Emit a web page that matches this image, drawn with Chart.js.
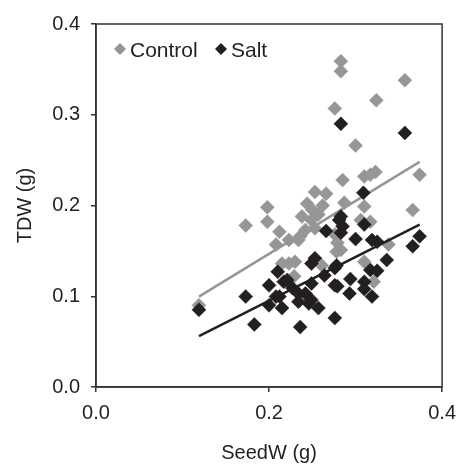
<!DOCTYPE html>
<html><head><meta charset="utf-8">
<script src="https://cdn.jsdelivr.net/npm/chart.js@4/dist/chart.umd.min.js"></script>
<style>html,body{margin:0;padding:0;background:#fff}#wrap{width:465px;height:467px;position:relative}</style>
</head><body><div id="wrap"><canvas id="c" width="465" height="467"></canvas></div>
<script>
const seriesNames = ['Control', 'Salt'];
const controlX = [0.119,0.173,0.198,0.198,0.212,0.208,0.223,0.236,0.242,0.253,0.238,0.249,0.244,0.253,0.266,0.250,0.276,0.279,0.283,0.285,0.283,0.283,0.357,0.324,0.276,0.300,0.374,0.310,0.323,0.317,0.287,0.310,0.366,0.306,0.317,0.338,0.310,0.321,0.215,0.223,0.230,0.229,0.261,0.234,0.278,0.262,0.257];
const controlY = [0.090,0.178,0.198,0.182,0.171,0.157,0.162,0.166,0.173,0.175,0.188,0.184,0.202,0.215,0.213,0.195,0.168,0.159,0.151,0.228,0.359,0.348,0.338,0.316,0.307,0.266,0.234,0.232,0.237,0.234,0.203,0.199,0.195,0.184,0.182,0.157,0.138,0.116,0.136,0.136,0.138,0.122,0.134,0.162,0.149,0.200,0.190];
const saltX = [0.119,0.173,0.183,0.200,0.200,0.208,0.210,0.215,0.217,0.227,0.234,0.234,0.236,0.242,0.246,0.249,0.249,0.249,0.253,0.257,0.264,0.266,0.276,0.276,0.276,0.279,0.281,0.283,0.283,0.285,0.283,0.293,0.294,0.300,0.309,0.310,0.310,0.310,0.317,0.319,0.319,0.325,0.325,0.336,0.357,0.366,0.374,0.212,0.278,0.221];
const saltY = [0.085,0.0996,0.069,0.090,0.112,0.0996,0.127,0.087,0.116,0.109,0.094,0.103,0.066,0.103,0.092,0.096,0.114,0.136,0.142,0.087,0.123,0.172,0.131,0.112,0.076,0.111,0.184,0.188,0.170,0.177,0.290,0.103,0.119,0.163,0.214,0.179,0.116,0.108,0.129,0.0996,0.162,0.160,0.128,0.140,0.280,0.155,0.166,0.0996,0.134,0.118];
const controlFitX = [0.119, 0.374];
const controlFitY = [0.0996, 0.248];
const saltFitX = [0.119, 0.374];
const saltFitY = [0.056, 0.179];
const xTicks = [0, 0.2, 0.4];
const yTicks = [0, 0.1, 0.2, 0.3, 0.4];

const GRAY = '#969696', BLACK = '#231f20', AXIS = '#333333';
const FONT = "'Liberation Sans', Arial, sans-serif";
const pts = (xs, ys) => xs.map((x, i) => ({x, y: ys[i]}));

const legendPlugin = {
  id: 'insideLegend',
  afterDraw(chart) {
    const ctx = chart.ctx, a = chart.chartArea;
    const items = [{name: seriesNames[0], color: GRAY, dx: 24}, {name: seriesNames[1], color: BLACK, dx: 125}];
    ctx.save();
    ctx.font = '21px ' + FONT;
    ctx.textBaseline = 'alphabetic';
    ctx.textAlign = 'left';
    items.forEach(it => {
      const cx = a.left + it.dx, cy = a.top + 25, r = 6;
      ctx.fillStyle = it.color;
      ctx.beginPath();
      ctx.moveTo(cx - r, cy); ctx.lineTo(cx, cy - r); ctx.lineTo(cx + r, cy); ctx.lineTo(cx, cy + r);
      ctx.closePath(); ctx.fill();
      ctx.fillStyle = BLACK;
      ctx.fillText(it.name, cx + 10, cy + 7.5);
    });
    ctx.strokeStyle = AXIS; ctx.lineWidth = 1.5;
    ctx.strokeRect(a.left, a.top, a.right - a.left, a.bottom - a.top);
    ctx.restore();
  }
};

new Chart(document.getElementById('c'), {
  type: 'scatter',
  data: {
    datasets: [
      {label: seriesNames[1] + ' fit', type: 'line', data: pts(saltFitX, saltFitY), borderColor: BLACK, borderWidth: 2.5, pointRadius: 0, fill: false, order: 1},
      {label: seriesNames[1], data: pts(saltX, saltY), pointStyle: 'rectRot', pointRadius: 7, backgroundColor: BLACK, borderColor: BLACK, borderWidth: 0.5, order: 2},
      {label: seriesNames[0] + ' fit', type: 'line', data: pts(controlFitX, controlFitY), borderColor: GRAY, borderWidth: 2.5, pointRadius: 0, fill: false, order: 3},
      {label: seriesNames[0], data: pts(controlX, controlY), pointStyle: 'rectRot', pointRadius: 7, backgroundColor: GRAY, borderColor: GRAY, borderWidth: 0.5, order: 4}
    ]
  },
  options: {
    responsive: false, animation: false, devicePixelRatio: 1,
    layout: {padding: {top: 24, right: 15, left: 0, bottom: 0}},
    plugins: {legend: {display: false}, tooltip: {enabled: false}},
    scales: {
      x: {
        type: 'linear', min: 0, max: 0.4,
        afterBuildTicks: s => { s.ticks = xTicks.map(v => ({value: v})); },
        afterFit: s => { s.height = 80; },
        ticks: {callback: v => Number(v).toFixed(1), font: {family: FONT, size: 20}, color: BLACK, padding: 9, maxRotation: 0},
        grid: {drawOnChartArea: false, drawTicks: true, tickLength: 5, color: AXIS, lineWidth: 1.5},
        border: {display: true, color: AXIS, width: 1.5},
        title: {display: true, text: 'SeedW (g)', font: {family: FONT, size: 20}, color: BLACK, padding: {top: 0, bottom: 2}}
      },
      y: {
        type: 'linear', min: 0, max: 0.4,
        afterBuildTicks: s => { s.ticks = yTicks.map(v => ({value: v})); },
        afterFit: s => { s.width = 96; },
        ticks: {callback: v => Number(v).toFixed(1), font: {family: FONT, size: 20}, color: BLACK, padding: 11},
        grid: {drawOnChartArea: false, drawTicks: true, tickLength: 5, color: AXIS, lineWidth: 1.5},
        border: {display: true, color: AXIS, width: 1.5},
        title: {display: true, text: 'TDW (g)', font: {family: FONT, size: 20}, color: BLACK, padding: {top: 13, bottom: 0}}
      }
    }
  },
  plugins: [legendPlugin]
});
</script></body></html>
